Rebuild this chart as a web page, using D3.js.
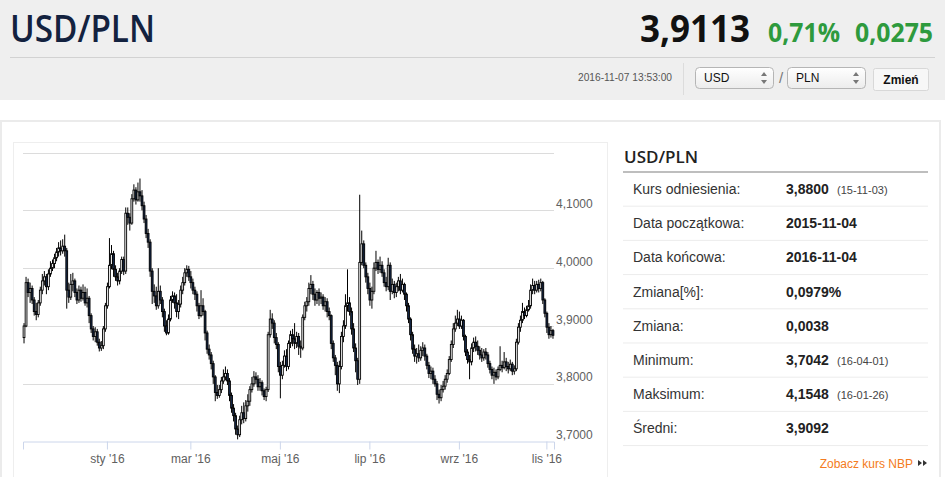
<!DOCTYPE html>
<html>
<head>
<meta charset="utf-8">
<script src="https://cdn.jsdelivr.net/npm/d3@7/dist/d3.min.js"></script>
<style>
  body { margin: 0; background: #fff; }
  svg { display: block; font-family: "Liberation Sans", Arial, sans-serif; }
</style>
</head>
<body>
<div id="page"></div>
<script>
const width = 945;
const height = 477;

// daily USD/PLN candles, 2015-11-04 .. 2016-11-04 (trading days)
const opens = [
  3.880,3.900,3.975,3.958,3.965,3.945,3.925,3.920,3.940,3.962,
  3.978,3.985,3.968,3.990,4.000,4.008,4.018,4.028,4.035,4.030,
  4.038,4.030,3.962,3.950,3.972,3.978,3.958,3.945,3.962,3.948,
  3.958,3.940,3.948,3.918,3.895,3.882,3.890,3.872,3.862,3.866,
  3.895,3.935,3.968,4.005,4.025,3.998,3.985,3.978,3.995,4.015,
  3.995,4.095,4.088,4.078,4.120,4.135,4.118,4.132,4.125,4.108,
  4.085,4.060,4.045,3.995,3.960,3.952,3.935,3.960,3.945,3.925,
  3.900,3.888,3.912,3.945,3.952,3.940,3.925,3.938,3.962,3.975,
  3.992,3.998,3.985,3.975,3.962,3.955,3.935,3.918,3.935,3.925,
  3.888,3.860,3.850,3.835,3.812,3.785,3.780,3.790,3.805,3.812,
  3.818,3.805,3.780,3.758,3.745,3.722,3.712,3.738,3.750,3.740,
  3.762,3.770,3.790,3.800,3.812,3.808,3.795,3.802,3.788,3.778,
  3.790,3.885,3.912,3.905,3.880,3.868,3.830,3.815,3.832,3.848,
  3.830,3.870,3.885,3.878,3.870,3.882,3.865,3.862,3.915,3.935,
  3.942,3.965,3.972,3.955,3.945,3.958,3.948,3.950,3.935,3.942,
  3.925,3.918,3.870,3.845,3.832,3.800,3.830,3.882,3.900,3.935,
  3.940,3.925,3.895,3.862,3.840,3.808,4.010,4.042,4.005,3.985,
  3.965,3.945,3.960,4.000,4.010,3.998,4.005,3.992,3.975,3.968,
  4.005,3.960,3.972,3.958,3.968,3.978,3.962,3.972,3.955,3.935,
  3.912,3.885,3.860,3.848,3.852,3.845,3.858,3.862,3.848,3.832,
  3.818,3.822,3.808,3.800,3.782,3.776,3.790,3.796,3.808,3.818,
  3.842,3.868,3.895,3.905,3.912,3.900,3.910,3.882,3.855,3.842,
  3.838,3.862,3.872,3.865,3.858,3.850,3.845,3.855,3.850,3.835,
  3.825,3.815,3.820,3.812,3.825,3.832,3.828,3.838,3.830,3.826,
  3.834,3.822,3.826,3.872,3.898,3.910,3.925,3.918,3.928,3.935,
  3.962,3.970,3.962,3.972,3.965,3.975,3.945,3.922,3.898,3.885,
  3.892
];
const highs = [
  3.905,3.985,3.982,3.975,3.970,3.950,3.940,3.945,3.968,3.990,
  3.995,3.990,3.998,4.012,4.015,4.025,4.035,4.045,4.048,4.050,
  4.058,4.035,3.975,3.990,3.992,3.982,3.965,3.970,3.968,3.972,
  3.968,3.965,3.952,3.922,3.900,3.898,3.895,3.878,3.874,3.900,
  3.940,3.975,4.052,4.040,4.030,4.005,3.992,4.000,4.020,4.020,
  4.105,4.105,4.095,4.128,4.145,4.140,4.148,4.155,4.135,4.115,
  4.092,4.068,4.050,4.000,3.972,3.968,4.000,3.970,3.950,3.930,
  3.910,3.920,3.952,3.960,3.958,3.955,3.945,3.970,3.985,4.000,
  4.005,4.004,3.995,3.982,3.968,3.960,3.940,3.962,3.948,3.928,
  3.892,3.868,3.855,3.840,3.815,3.798,3.798,3.812,3.825,3.830,
  3.825,3.810,3.785,3.765,3.750,3.728,3.745,3.762,3.768,3.772,
  3.782,3.796,3.812,3.822,3.820,3.815,3.810,3.806,3.792,3.795,
  3.890,3.928,3.922,3.910,3.888,3.872,3.838,3.840,3.858,3.860,
  3.875,3.892,3.895,3.905,3.890,3.888,3.875,3.920,3.942,3.950,
  3.975,3.988,3.978,3.965,3.962,3.965,3.958,3.955,3.950,3.948,
  3.932,3.920,3.875,3.850,3.838,3.840,3.890,3.910,3.955,3.998,
  3.950,3.932,3.905,3.870,3.845,4.127,4.065,4.048,4.010,3.992,
  3.975,3.968,4.010,4.030,4.015,4.020,4.012,3.998,3.985,4.018,
  4.010,3.982,3.978,3.975,3.985,3.990,3.982,3.975,3.958,3.940,
  3.915,3.890,3.868,3.862,3.868,3.865,3.872,3.868,3.852,3.838,
  3.830,3.828,3.815,3.805,3.790,3.798,3.805,3.815,3.825,3.848,
  3.875,3.905,3.918,3.928,3.925,3.918,3.912,3.885,3.860,3.850,
  3.870,3.880,3.882,3.875,3.865,3.862,3.860,3.862,3.855,3.840,
  3.830,3.828,3.825,3.830,3.865,3.840,3.855,3.845,3.838,3.842,
  3.838,3.832,3.878,3.905,3.918,3.940,3.932,3.935,3.945,3.972,
  3.982,3.978,3.978,3.980,3.982,3.978,3.948,3.925,3.905,3.900,
  3.895
];
const lows = [
  3.870,3.898,3.950,3.940,3.938,3.918,3.910,3.915,3.935,3.955,
  3.970,3.955,3.962,3.985,3.995,4.000,4.012,4.020,4.022,4.025,
  4.020,3.930,3.940,3.945,3.960,3.950,3.938,3.940,3.942,3.944,
  3.935,3.932,3.905,3.888,3.875,3.872,3.866,3.856,3.857,3.860,
  3.890,3.930,3.965,3.998,3.985,3.978,3.970,3.972,3.990,3.988,
  3.990,4.075,4.065,4.075,4.115,4.110,4.115,4.115,4.100,4.078,
  4.052,4.035,3.985,3.938,3.940,3.928,3.930,3.938,3.915,3.890,
  3.884,3.885,3.908,3.940,3.930,3.915,3.912,3.932,3.955,3.970,
  3.985,3.978,3.965,3.955,3.945,3.925,3.912,3.915,3.918,3.875,
  3.852,3.842,3.825,3.800,3.770,3.774,3.776,3.784,3.800,3.806,
  3.798,3.770,3.750,3.735,3.712,3.704,3.708,3.730,3.732,3.735,
  3.752,3.762,3.785,3.795,3.800,3.788,3.788,3.780,3.772,3.770,
  3.786,3.880,3.895,3.870,3.860,3.820,3.775,3.808,3.828,3.822,
  3.825,3.862,3.865,3.860,3.862,3.850,3.845,3.858,3.910,3.925,
  3.935,3.955,3.945,3.935,3.938,3.935,3.938,3.928,3.925,3.915,
  3.910,3.860,3.838,3.815,3.788,3.784,3.825,3.872,3.895,3.925,
  3.918,3.885,3.855,3.820,3.798,3.800,4.005,4.000,3.975,3.955,
  3.935,3.930,3.955,3.995,3.990,3.992,3.985,3.968,3.960,3.962,
  3.945,3.955,3.948,3.950,3.960,3.955,3.958,3.945,3.925,3.905,
  3.875,3.852,3.838,3.835,3.838,3.840,3.848,3.840,3.825,3.810,
  3.808,3.800,3.795,3.772,3.766,3.770,3.785,3.790,3.802,3.815,
  3.838,3.862,3.890,3.900,3.895,3.895,3.875,3.848,3.835,3.808,
  3.832,3.855,3.856,3.850,3.842,3.838,3.840,3.842,3.828,3.818,
  3.808,3.800,3.806,3.808,3.822,3.820,3.825,3.822,3.818,3.822,
  3.815,3.816,3.822,3.868,3.890,3.905,3.912,3.915,3.925,3.930,
  3.955,3.955,3.958,3.958,3.960,3.938,3.915,3.888,3.878,3.880,
  3.878
];
const closes = [
  3.900,3.975,3.958,3.965,3.945,3.925,3.920,3.940,3.962,3.978,
  3.985,3.968,3.990,4.000,4.008,4.018,4.028,4.035,4.030,4.038,
  4.030,3.962,3.950,3.972,3.978,3.958,3.945,3.962,3.948,3.958,
  3.940,3.948,3.918,3.895,3.882,3.890,3.872,3.862,3.866,3.895,
  3.935,3.968,4.005,4.025,3.998,3.985,3.978,3.995,4.015,3.995,
  4.095,4.088,4.078,4.120,4.135,4.118,4.132,4.125,4.108,4.085,
  4.060,4.045,3.995,3.960,3.952,3.935,3.960,3.945,3.925,3.900,
  3.888,3.912,3.945,3.952,3.940,3.925,3.938,3.962,3.975,3.992,
  3.998,3.985,3.975,3.962,3.955,3.935,3.918,3.935,3.925,3.888,
  3.860,3.850,3.835,3.812,3.785,3.780,3.790,3.805,3.812,3.818,
  3.805,3.780,3.758,3.745,3.722,3.712,3.738,3.750,3.740,3.762,
  3.770,3.790,3.800,3.812,3.808,3.795,3.802,3.788,3.778,3.790,
  3.885,3.912,3.905,3.880,3.868,3.830,3.815,3.832,3.848,3.830,
  3.870,3.885,3.878,3.870,3.882,3.865,3.862,3.915,3.935,3.942,
  3.965,3.972,3.955,3.945,3.958,3.948,3.950,3.935,3.942,3.925,
  3.918,3.870,3.845,3.832,3.800,3.830,3.882,3.900,3.935,3.940,
  3.925,3.895,3.862,3.840,3.808,4.010,4.042,4.005,3.985,3.965,
  3.945,3.960,4.000,4.010,3.998,4.005,3.992,3.975,3.968,4.005,
  3.960,3.972,3.958,3.968,3.978,3.962,3.972,3.955,3.935,3.912,
  3.885,3.860,3.848,3.852,3.845,3.858,3.862,3.848,3.832,3.818,
  3.822,3.808,3.800,3.782,3.776,3.790,3.796,3.808,3.818,3.842,
  3.868,3.895,3.905,3.912,3.900,3.910,3.882,3.855,3.842,3.838,
  3.862,3.872,3.865,3.858,3.850,3.845,3.855,3.850,3.835,3.825,
  3.815,3.820,3.812,3.825,3.832,3.828,3.838,3.830,3.826,3.834,
  3.822,3.826,3.872,3.898,3.910,3.925,3.918,3.928,3.935,3.962,
  3.970,3.962,3.972,3.965,3.975,3.945,3.922,3.898,3.885,3.892,
  3.884
];

const yTicks = [3.7, 3.8, 3.9, 4.0, 4.1, 4.2];
const monthTicks = ["2016-01-04", "2016-03-01", "2016-05-02", "2016-07-01", "2016-09-01", "2016-11-01"];
const monthLabels = ["sty '16", "mar '16", "maj '16", "lip '16", "wrz '16", "lis '16"];

const tableLabels = ["Kurs odniesienia:", "Data początkowa:", "Data końcowa:", "Zmiana[%]:", "Zmiana:", "Minimum:", "Maksimum:", "Średni:"];
const tableValues = ["3,8800", "2015-11-04", "2016-11-04", "0,0979%", "0,0038", "3,7042", "4,1548", "3,9092"];
const tableDates = ["(15-11-03)", "", "", "", "", "(16-04-01)", "(16-01-26)", ""];

// trading days (weekdays, without 25 Dec and 1 Jan)
const fmtDay = d3.timeFormat("%Y-%m-%d");
const days = d3.timeDay.range(new Date(2015, 10, 4), new Date(2016, 10, 5))
  .filter(d => d.getDay() !== 0 && d.getDay() !== 6)
  .map(fmtDay)
  .filter(s => s !== "2015-12-25" && s !== "2016-01-01");

const candles = days.map((day, i) => ({
  day, open: opens[i], high: highs[i], low: lows[i], close: closes[i]
})).filter(d => d.close !== undefined);

const svg = d3.select("#page").append("svg")
  .attr("width", width).attr("height", height);

// ---------- page header ----------
svg.append("rect").attr("width", width).attr("height", 100).attr("fill", "#efefef");
svg.append("line").attr("x1", 10).attr("x2", 935).attr("y1", 57.5).attr("y2", 57.5)
  .attr("stroke", "#d2d2d2");

svg.append("text").attr("x", 10).attr("y", 42)
  .attr("font-family", "'Open Sans', sans-serif").attr("font-weight", 600)
  .attr("font-size", 38).attr("fill", "#13223f")
  .attr("textLength", 145).attr("lengthAdjust", "spacingAndGlyphs")
  .text("USD/PLN");

const bigNums = [
  { t: "3,9113", x: 640, w: 110, s: 38, c: "#111" },
  { t: "0,71%", x: 768, w: 72, s: 26, c: "#2e9a3d" },
  { t: "0,0275", x: 855, w: 78, s: 26, c: "#2e9a3d" }
];
svg.selectAll("text.big").data(bigNums).join("text")
  .attr("class", "big")
  .attr("x", d => d.x).attr("y", 42)
  .attr("font-family", "'Open Sans', sans-serif").attr("font-weight", 700)
  .attr("font-size", d => d.s).attr("fill", d => d.c)
  .attr("textLength", d => d.w).attr("lengthAdjust", "spacingAndGlyphs")
  .text(d => d.t);

svg.append("text").attr("x", 578).attr("y", 81)
  .attr("font-size", 11).attr("fill", "#555")
  .attr("textLength", 94).attr("lengthAdjust", "spacingAndGlyphs")
  .text("2016-11-07 13:53:00");
svg.append("line").attr("x1", 683.5).attr("x2", 683.5).attr("y1", 63).attr("y2", 95)
  .attr("stroke", "#dcdcdc");

const grad = svg.append("defs").append("linearGradient")
  .attr("id", "selGrad").attr("x1", 0).attr("x2", 0).attr("y1", 0).attr("y2", 1);
grad.append("stop").attr("offset", "0%").attr("stop-color", "#ffffff");
grad.append("stop").attr("offset", "100%").attr("stop-color", "#ececec");

const selects = [{ t: "USD", x: 695 }, { t: "PLN", x: 787 }];
const sel = svg.selectAll("g.sel").data(selects).join("g")
  .attr("class", "sel").attr("transform", d => `translate(${d.x},67)`);
sel.append("rect").attr("x", 0.5).attr("y", 0.5).attr("width", 78).attr("height", 21)
  .attr("rx", 4).attr("fill", "url(#selGrad)").attr("stroke", "#b5b5b5");
sel.append("text").attr("x", 9).attr("y", 15).attr("font-size", 12).attr("fill", "#111")
  .text(d => d.t);
sel.append("path").attr("d", "M66,9 l3,-4 l3,4 Z M66,13 l3,4 l3,-4 Z").attr("fill", "#777");
svg.append("text").attr("x", 779).attr("y", 83).attr("font-size", 15).attr("fill", "#777").text("/");

svg.append("rect").attr("x", 873.5).attr("y", 68.5).attr("width", 55).attr("height", 22)
  .attr("rx", 2).attr("fill", "#f7f7f7").attr("stroke", "#d8d8d8");
svg.append("text").attr("x", 901).attr("y", 84).attr("text-anchor", "middle")
  .attr("font-size", 12).attr("font-weight", 700).attr("fill", "#111").text("Zmień");

// ---------- content panel ----------
svg.append("rect").attr("x", 1).attr("y", 121).attr("width", 939).attr("height", 370)
  .attr("fill", "#fff").attr("stroke", "#ebebeb").attr("stroke-width", 2);
svg.append("rect").attr("x", 13.5).attr("y", 142.5).attr("width", 594).attr("height", 360)
  .attr("fill", "#fff").attr("stroke", "#eeeeee");

// ---------- candlestick chart ----------
const x = d3.scaleBand().domain(candles.map(d => d.day)).range([23, 554]);
const y = d3.scaleLinear().domain([3.7, 4.2]).range([441.7, 152.5]);
const fmtPL = v => d3.format(".4f")(v).replace(".", ",");

svg.append("g").selectAll("line").data(yTicks.slice(1)).join("line")
  .attr("x1", 23).attr("x2", 554)
  .attr("y1", d => Math.round(y(d)) + 0.5).attr("y2", d => Math.round(y(d)) + 0.5)
  .attr("stroke", "#dcdcdc");

const yAxis = svg.append("g")
  .attr("transform", "translate(554,0)")
  .call(d3.axisRight(y).tickValues(yTicks.slice(0, -1)).tickFormat(fmtPL).tickSize(0).tickPadding(2));
yAxis.select(".domain").remove();
yAxis.selectAll("text")
  .attr("dy", "-0.25em")
  .attr("font-family", "'Liberation Sans', Arial, sans-serif")
  .attr("font-size", 12).attr("fill", "#606060");

const xAxis = svg.append("g")
  .attr("transform", "translate(0,441.5)")
  .call(d3.axisBottom(x).tickValues(monthTicks)
    .tickFormat((d, i) => monthLabels[i]).tickSize(8).tickPadding(5));
xAxis.select(".domain").attr("stroke", "#ccd6eb");
xAxis.selectAll(".tick line").attr("stroke", "#ccd6eb");
xAxis.selectAll("text")
  .attr("font-family", "'Liberation Sans', Arial, sans-serif")
  .attr("font-size", 12).attr("fill", "#606060");

const bw = x.bandwidth();
const bodyW = 1.8;
const candle = svg.append("g").selectAll("g").data(candles).join("g")
  .attr("transform", d => `translate(${x(d.day) + bw / 2},0)`);
candle.append("line")
  .attr("y1", d => y(d.high)).attr("y2", d => y(d.low))
  .attr("stroke", "#000").attr("stroke-width", 1);
candle.append("rect")
  .attr("x", -bodyW / 2).attr("width", bodyW)
  .attr("y", d => y(Math.max(d.open, d.close)))
  .attr("height", d => Math.max(0.6, Math.abs(y(d.open) - y(d.close))))
  .attr("fill", d => d.close >= d.open ? "#fff" : "#16294a")
  .attr("stroke", "#000").attr("stroke-width", 0.9);

// ---------- stats table ----------
svg.append("text").attr("x", 624).attr("y", 163)
  .attr("font-family", "'Open Sans', sans-serif").attr("font-weight", 600)
  .attr("font-size", 17).attr("fill", "#222").text("USD/PLN");
svg.append("line").attr("x1", 623).attr("x2", 928).attr("y1", 172).attr("y2", 172)
  .attr("stroke", "#a8a8a8").attr("stroke-width", 1.5);

const rowH = 34.2;
const rows = svg.append("g").selectAll("g").data(tableLabels).join("g")
  .attr("transform", (d, i) => `translate(0,${172 + i * rowH})`);
rows.append("line").attr("x1", 623).attr("x2", 928)
  .attr("y1", rowH).attr("y2", rowH).attr("stroke", "#ececec");
rows.append("text").attr("x", 633).attr("y", 22)
  .attr("font-size", 14).attr("fill", "#333").text(d => d);
rows.append("text").attr("x", 786).attr("y", 22)
  .attr("font-size", 14).attr("font-weight", 700).attr("fill", "#222")
  .text((d, i) => tableValues[i]);
rows.append("text").attr("x", 837).attr("y", 22)
  .attr("font-size", 11).attr("fill", "#444")
  .text((d, i) => tableDates[i]);

svg.append("text").attr("x", 913).attr("y", 468).attr("text-anchor", "end")
  .attr("font-size", 12).attr("fill", "#f47b20").text("Zobacz kurs NBP");
svg.append("path").attr("d", "M918,460 l4,3 l-4,3 Z M923,460 l4,3 l-4,3 Z").attr("fill", "#333");
</script>
</body>
</html>
